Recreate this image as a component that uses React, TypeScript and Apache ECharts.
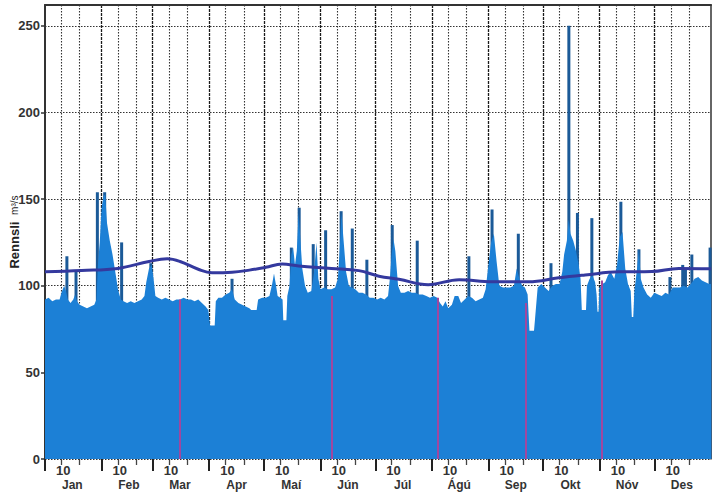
import React, { useEffect, useRef } from 'react';
import * as echarts from 'echarts';

// Month labels (Icelandic) and the day-of-year each month starts on
const MONTH_NAMES = ['Jan', 'Feb', 'Mar', 'Apr', 'Maí', 'Jún', 'Júl', 'Ágú', 'Sep', 'Okt', 'Nóv', 'Des'];
const MONTH_START_DAYS = [0, 31, 59, 90, 120, 151, 181, 212, 243, 273, 304, 334];
const Y_TICKS = [0, 50, 100, 150, 200, 250];

// Daily discharge envelope [day of year, m³/s]
const dailyFlow: [number, number][] = [
  [0, 92], [2, 93], [4, 91], [6, 92], [8, 92], [9, 96], [10.5, 100], [11.5, 97], [12.5, 92], [14, 90],
  [15.5, 92], [16.5, 95], [17.5, 91], [19, 89], [21, 88], [23, 87], [25, 88], [27, 89], [28.2, 92],
  [29, 112], [30, 125], [31, 145], [32, 151], [33, 153], [34, 136], [35.5, 126], [37, 118], [38.5, 108],
  [40, 98], [41.5, 92], [43, 91], [45, 90], [47, 91], [49, 90], [51, 91], [53, 92], [54.5, 94],
  [55.5, 102], [57, 110], [58.5, 112], [59.5, 104], [60.5, 94], [62, 93], [64, 92], [66, 93], [68, 92],
  [70, 91], [72, 92], [74, 92], [76, 93], [78, 92], [80, 92], [82, 91], [84, 92], [86, 90], [88, 88],
  [89.5, 86], [90.5, 77], [93, 77], [93.6, 91], [95, 93], [97, 93], [99, 95], [101, 96], [102.5, 98],
  [104, 92], [106, 90], [108, 89], [110, 88], [112, 87], [113, 86], [116, 86], [116.8, 92], [119, 93],
  [121, 93], [123, 94], [124.5, 101], [125.5, 107], [126.5, 101], [127.5, 94], [129, 93], [130.2, 92],
  [130.6, 80], [132.3, 80], [132.8, 94], [134, 100], [135, 118], [136, 122], [137, 112], [138, 120],
  [139, 142], [140, 126], [141, 110], [142.5, 100], [144, 96], [146, 97], [147.5, 108], [148.8, 125],
  [149.8, 104], [151, 98], [153, 99], [155, 98], [157, 98], [159, 99], [160.5, 104], [161.5, 120],
  [162.5, 142], [163.5, 128], [165, 108], [166.5, 100], [168, 99], [170, 98], [172, 96], [174, 96],
  [176, 95], [178, 93], [180, 93], [182, 92], [184, 93], [186, 92], [188, 94], [189, 104], [190, 118],
  [191, 127], [192, 120], [193.5, 100], [195, 96], [197, 96], [199, 97], [201, 96], [203, 96], [205, 95],
  [207, 95], [209, 94], [211, 93], [213, 94], [215, 93], [216.5, 90], [218, 88], [219.5, 91], [221, 87],
  [223, 89], [224.5, 94], [226.5, 94], [228, 90], [230, 92], [232, 94], [234, 93], [236, 91], [238, 92],
  [240, 93], [241.5, 98], [243, 112], [244.5, 125], [246, 130], [247.5, 114], [249, 100], [251, 99],
  [253, 99], [255, 99], [257, 100], [258.5, 110], [260, 104], [261.5, 100], [263, 99], [264.5, 95],
  [265.5, 74], [268, 74], [268.5, 80], [270, 99], [272, 101], [274, 99], [276, 97], [278, 100], [280, 101],
  [282, 101], [283.5, 108], [284.5, 118], [286, 126], [287, 138], [288, 130], [289.5, 126], [291, 120],
  [292.5, 112], [293.5, 104], [294.2, 86], [296.5, 86], [297, 100], [298.5, 104], [300, 106], [301.5, 102],
  [302.3, 95], [302.8, 85], [303.4, 85], [303.8, 99], [305.5, 101], [307, 102], [308.5, 106], [310, 108],
  [312, 104], [313.5, 112], [315, 128], [316.5, 131], [318, 110], [319.5, 101], [321, 97], [321.6, 82],
  [322.4, 82], [323, 97], [324.5, 110], [325.5, 121], [326.5, 104], [328, 99], [330, 95], [332, 93],
  [334, 96], [336, 95], [338, 94], [340, 96], [342, 95], [344, 99], [346, 99], [348, 99], [350, 100],
  [352, 99], [354, 101], [356, 104], [358, 105], [360, 103], [362, 102], [364, 101], [365, 101],
];

// Short flood peaks [day of year, m³/s]
const flowPeaks: [number, number][] = [
  [12, 117], [17, 109], [28.7, 154], [32.7, 154], [42, 125], [58, 113], [102.5, 104], [135, 122],
  [139.3, 145], [147, 124], [153.8, 132], [162.3, 143], [168.4, 133], [176.4, 115], [190.3, 135],
  [204, 126], [232.3, 117], [245, 144], [259.4, 130], [277.3, 113], [287.1, 250], [291.8, 142],
  [299.7, 139], [315.6, 148.5], [325.5, 121], [342.5, 105], [349.5, 112], [351, 110], [354.5, 118],
  [364.5, 122],
];

// Long-term mean discharge [day of year, m³/s]
const meanFlow: [number, number][] = [
  [0, 108], [20, 108.8], [40, 110], [57, 114], [67, 115.5], [74, 114], [84, 109.5], [91.5, 107.5],
  [102.5, 107.8], [112, 109], [121, 110.6], [130, 112.5], [139, 111.4], [157, 110], [172, 108.7],
  [183, 105.5], [194, 103.7], [210, 100.6], [227, 103.5], [245, 102.3], [265, 102.3], [281.6, 104.6],
  [296, 106.2], [314.5, 108], [332.6, 108.2], [347.4, 110], [365, 109.8],
];

// Field measurement dates [day of year, m³/s]
const measurements: [number, number][] = [
  [74, 92], [157, 94], [215, 93], [263.6, 90], [305, 103],
];

const FONT = "'Liberation Sans', Arial, sans-serif";
const TEXT_COLOR = '#333';

const dayCategories = Array.from({ length: 366 }, (_, i) => String(i));
const monthStartSet = new Set(MONTH_START_DAYS);
const minorSet = new Set(MONTH_START_DAYS.flatMap((d) => [d + 9, d + 19]));
// "10" labels and month names are placed just right of the 10th-day tick
const tenthLabelSet = new Set(MONTH_START_DAYS.map((d) => d + 10));
const monthLabelDays = MONTH_START_DAYS.map((d) => d + 15);
const monthLabelSet = new Set(monthLabelDays);

export default function App() {
  const ref = useRef<HTMLDivElement>(null);

  useEffect(() => {
    if (!ref.current) return;
    const chart = echarts.init(ref.current, undefined, { renderer: 'svg' });

    const dayAxisBase = {
      type: 'category' as const,
      data: dayCategories,
      boundaryGap: false,
      position: 'bottom' as const,
      gridIndex: 0,
      axisLine: { show: false, onZero: false },
    };

    chart.setOption({
      animation: false,
      grid: { left: 45, right: 2, top: 5, bottom: 36, outerBoundsMode: 'none', containLabel: false },
      xAxis: [
        {
          type: 'value',
          min: 0,
          max: 365,
          show: false,
        },
        {
          // month ticks, month grid lines and the "10" labels
          ...dayAxisBase,
          axisTick: {
            show: true,
            interval: (i: number) => monthStartSet.has(i),
            length: 12,
            lineStyle: { color: '#222', width: 2 },
          },
          axisLabel: {
            show: true,
            interval: (i: number) => tenthLabelSet.has(i),
            margin: 5,
            fontSize: 13,
            lineHeight: 13,
            fontWeight: 'bold',
            fontFamily: FONT,
            color: TEXT_COLOR,
            formatter: (_v: string, i: number) => (tenthLabelSet.has(i) ? '10' : ''),
          },
          splitLine: {
            show: true,
            interval: (i: number) => monthStartSet.has(i) && i > 0,
            lineStyle: { color: '#1a1a1a', width: 1.3, type: [3, 1] },
          },
        },
        {
          // 10th/20th ticks and grid lines
          ...dayAxisBase,
          axisTick: {
            show: true,
            interval: (i: number) => minorSet.has(i),
            length: 6,
            lineStyle: { color: '#444', width: 1.3 },
          },
          axisLabel: { show: false },
          splitLine: {
            show: true,
            interval: (i: number) => minorSet.has(i),
            lineStyle: { color: '#333', width: 1.1, type: [1.5, 1.5] },
          },
        },
        {
          // month names
          ...dayAxisBase,
          axisTick: { show: false },
          splitLine: { show: false },
          axisLabel: {
            show: true,
            interval: (i: number) => monthLabelSet.has(i),
            margin: 20,
            fontSize: 12,
            lineHeight: 12,
            fontWeight: 'bold',
            fontFamily: FONT,
            color: TEXT_COLOR,
            formatter: (_v: string, i: number) => {
              const m = monthLabelDays.indexOf(i);
              return m >= 0 ? MONTH_NAMES[m] : '';
            },
          },
        },
        {
          type: 'value',
          min: 0,
          max: 365,
          position: 'top',
          axisLine: { show: true, onZero: false, lineStyle: { color: '#333', width: 2 } },
          axisTick: { show: false },
          axisLabel: { show: false },
          splitLine: { show: false },
        },
      ],
      yAxis: [
        {
          type: 'value',
          min: 0,
          max: 262,
          interval: 50,
          name: '{a|Rennsli}  {b|m³/s}',
          nameLocation: 'middle',
          nameRotate: 90,
          nameGap: 24,
          nameMoveOverlap: false,
          nameTextStyle: {
            rich: {
              a: { fontSize: 13, fontWeight: 'bold', fontFamily: FONT, color: '#222' },
              b: { fontSize: 10, fontFamily: FONT, color: '#222' },
            },
          },
          axisLine: { show: true, onZero: false, lineStyle: { color: '#333', width: 2 } },
          axisTick: { show: true, length: 4, customValues: Y_TICKS, lineStyle: { color: '#333', width: 1.5 } },
          axisLabel: {
            customValues: Y_TICKS,
            margin: 5,
            fontSize: 13,
            fontWeight: 'bold',
            fontFamily: FONT,
            color: TEXT_COLOR,
            formatter: (v: number) => (Y_TICKS.includes(v) ? String(v) : ''),
          },
          splitLine: {
            show: true,
            lineStyle: { color: '#333', width: 1.1, type: [1.5, 1.5] },
          },
        },
        {
          type: 'value',
          min: 0,
          max: 262,
          position: 'right',
          axisLine: { show: true, onZero: false, lineStyle: { color: '#333', width: 1.5 } },
          axisTick: { show: false },
          axisLabel: { show: false },
          splitLine: { show: false },
        },
      ],
      series: [
        {
          name: 'peaks',
          type: 'bar',
          xAxisIndex: 0,
          yAxisIndex: 0,
          data: flowPeaks,
          barWidth: 3,
          itemStyle: { color: '#1b5a98' },
          silent: true,
          z: 2,
        },
        {
          name: 'daily',
          type: 'line',
          xAxisIndex: 0,
          yAxisIndex: 0,
          data: dailyFlow,
          symbol: 'none',
          lineStyle: { width: 0 },
          areaStyle: { color: '#1c80d6', opacity: 1 },
          silent: true,
          z: 3,
          markLine: {
            silent: true,
            symbol: ['none', 'none'],
            label: { show: false },
            lineStyle: { color: '#a0479f', width: 2, type: 'solid' },
            data: measurements.map(([d, v]) => [{ coord: [d, 0] }, { coord: [d, v] }]),
          },
        },
        {
          name: 'mean',
          type: 'line',
          xAxisIndex: 0,
          yAxisIndex: 0,
          data: meanFlow,
          smooth: 0.4,
          symbol: 'none',
          lineStyle: { color: '#34399e', width: 3 },
          silent: true,
          z: 4,
        },
      ],
    });

    return () => chart.dispose();
  }, []);

  return (
    <div
      ref={ref}
      style={{ position: 'absolute', left: 0, top: 0, width: 713, height: 495, background: '#fff' }}
    />
  );
}
